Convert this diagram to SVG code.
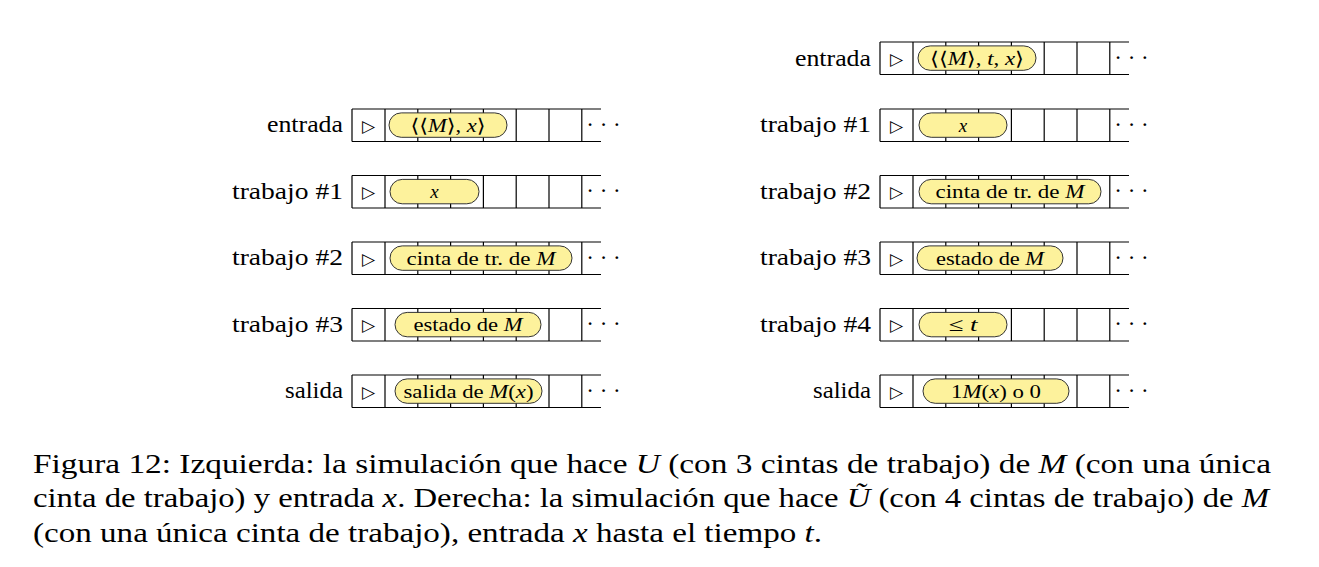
<svg xmlns="http://www.w3.org/2000/svg" xmlns:xlink="http://www.w3.org/1999/xlink" width="1319" height="567" viewBox="0 0 1319 567">
<style>
  .tape { fill: none; stroke: #000; stroke-width: 1.2; }
  .cap { fill: #fdf29c; stroke: #333; stroke-width: 1; }
  .lbl { font-family: "Liberation Serif", "DejaVu Serif", serif; font-size: 23px; fill: #000; text-anchor: end; }
  .ct { font-family: "Liberation Serif", "DejaVu Serif", serif; font-size: 19px; fill: #000; text-anchor: middle; }
  .tri { font-family: "DejaVu Sans", sans-serif; font-size: 17px; fill: #000; text-anchor: middle; }
  .dots { font-family: "Liberation Serif", serif; font-size: 23px; fill: #000; text-anchor: middle; }
  .cap-t { font-family: "Liberation Serif", "DejaVu Serif", serif; font-size: 26.5px; fill: #000; }
  .m { font-style: italic; }
</style>
<defs>
  <g id="tape">
    <path class="tape" d="M0,0 H249 M0,32.5 H249 M0,0 V32.5 M33,0 V32.5 M65.8,0 V32.5 M98.6,0 V32.5 M131.4,0 V32.5 M164.2,0 V32.5 M197,0 V32.5 M229.8,0 V32.5"/>
    <text class="tri" x="16.5" y="22.5">▷</text>
    <text class="dots" x="251.5" y="22.5">· · ·</text>
  </g>
</defs>

<g id="connectors"></g>

<!-- Left side -->
<g id="L-entrada">
  <text class="lbl" x="343" y="132" textLength="76" lengthAdjust="spacingAndGlyphs">entrada</text>
  <use xlink:href="#tape" x="352" y="109"/>
  <rect class="cap" x="389" y="112.9" width="118" height="24.4" rx="12.2"/>
  <text class="ct" x="448" y="131.5" textLength="75" lengthAdjust="spacingAndGlyphs">⟨⟨<tspan class="m">M</tspan>⟩, <tspan class="m">x</tspan>⟩</text>
</g>
<g id="L-trabajo1">
  <text class="lbl" x="343" y="198.5" textLength="111" lengthAdjust="spacingAndGlyphs">trabajo #1</text>
  <use xlink:href="#tape" x="352" y="175.5"/>
  <rect class="cap" x="390" y="179.4" width="89" height="24.4" rx="12.2"/>
  <text class="ct m" x="434.5" y="198">x</text>
</g>
<g id="L-trabajo2">
  <text class="lbl" x="343" y="265" textLength="111" lengthAdjust="spacingAndGlyphs">trabajo #2</text>
  <use xlink:href="#tape" x="352" y="242"/>
  <rect class="cap" x="390" y="245.9" width="182" height="24.4" rx="12.2"/>
  <text class="ct" x="481" y="264.5" textLength="149" lengthAdjust="spacingAndGlyphs">cinta de tr. de <tspan class="m">M</tspan></text>
</g>
<g id="L-trabajo3">
  <text class="lbl" x="343" y="331.5" textLength="111" lengthAdjust="spacingAndGlyphs">trabajo #3</text>
  <use xlink:href="#tape" x="352" y="308.5"/>
  <rect class="cap" x="395" y="312.4" width="146" height="24.4" rx="12.2"/>
  <text class="ct" x="468" y="331" textLength="109" lengthAdjust="spacingAndGlyphs">estado de <tspan class="m">M</tspan></text>
</g>
<g id="L-salida">
  <text class="lbl" x="343" y="398" textLength="58" lengthAdjust="spacingAndGlyphs">salida</text>
  <use xlink:href="#tape" x="352" y="375"/>
  <rect class="cap" x="395" y="378.9" width="147" height="24.4" rx="12.2"/>
  <text class="ct" x="468.5" y="397.5" textLength="130" lengthAdjust="spacingAndGlyphs">salida de <tspan class="m">M</tspan>(<tspan class="m">x</tspan>)</text>
</g>

<!-- Right side -->
<g id="R-entrada">
  <text class="lbl" x="871" y="65.5" textLength="76" lengthAdjust="spacingAndGlyphs">entrada</text>
  <use xlink:href="#tape" x="880" y="42"/>
  <rect class="cap" x="918" y="45.9" width="118" height="24.4" rx="12.2"/>
  <text class="ct" x="977" y="64.5" textLength="94" lengthAdjust="spacingAndGlyphs">⟨⟨<tspan class="m">M</tspan>⟩, <tspan class="m">t</tspan>, <tspan class="m">x</tspan>⟩</text>
</g>
<g id="R-trabajo1">
  <text class="lbl" x="871" y="132" textLength="111" lengthAdjust="spacingAndGlyphs">trabajo #1</text>
  <use xlink:href="#tape" x="880" y="109"/>
  <rect class="cap" x="919" y="112.9" width="88" height="24.4" rx="12.2"/>
  <text class="ct m" x="963" y="131.5">x</text>
</g>
<g id="R-trabajo2">
  <text class="lbl" x="871" y="198.5" textLength="111" lengthAdjust="spacingAndGlyphs">trabajo #2</text>
  <use xlink:href="#tape" x="880" y="175.5"/>
  <rect class="cap" x="919" y="179.4" width="182" height="24.4" rx="12.2"/>
  <text class="ct" x="1010" y="198" textLength="149" lengthAdjust="spacingAndGlyphs">cinta de tr. de <tspan class="m">M</tspan></text>
</g>
<g id="R-trabajo3">
  <text class="lbl" x="871" y="265" textLength="111" lengthAdjust="spacingAndGlyphs">trabajo #3</text>
  <use xlink:href="#tape" x="880" y="242"/>
  <rect class="cap" x="917" y="245.9" width="146" height="24.4" rx="12.2"/>
  <text class="ct" x="990" y="264.5" textLength="108" lengthAdjust="spacingAndGlyphs">estado de <tspan class="m">M</tspan></text>
</g>
<g id="R-trabajo4">
  <text class="lbl" x="871" y="331.5" textLength="111" lengthAdjust="spacingAndGlyphs">trabajo #4</text>
  <use xlink:href="#tape" x="880" y="308.5"/>
  <rect class="cap" x="919" y="312.4" width="88" height="24.4" rx="12.2"/>
  <text class="ct" x="963" y="331" textLength="29" lengthAdjust="spacingAndGlyphs">≤ <tspan class="m">t</tspan></text>
</g>
<g id="R-salida">
  <text class="lbl" x="871" y="398" textLength="58" lengthAdjust="spacingAndGlyphs">salida</text>
  <use xlink:href="#tape" x="880" y="375"/>
  <rect class="cap" x="923" y="378.9" width="146" height="24.4" rx="12.2"/>
  <text class="ct" x="996" y="397.5" textLength="90" lengthAdjust="spacingAndGlyphs">1<tspan class="m">M</tspan>(<tspan class="m">x</tspan>) o 0</text>
</g>

<!-- Caption -->
<g id="caption">
  <text class="cap-t" x="33" y="472.5" textLength="1238" lengthAdjust="spacingAndGlyphs">Figura 12: Izquierda: la simulación que hace <tspan class="m">U</tspan> (con 3 cintas de trabajo) de <tspan class="m">M</tspan> (con una única</text>
  <text class="cap-t" x="33" y="507" textLength="1236" lengthAdjust="spacingAndGlyphs">cinta de trabajo) y entrada <tspan class="m">x</tspan>. Derecha: la simulación que hace <tspan class="m">Ũ</tspan> (con 4 cintas de trabajo) de <tspan class="m">M</tspan></text>
  <text class="cap-t" x="33" y="541.5" textLength="789" lengthAdjust="spacingAndGlyphs">(con una única cinta de trabajo), entrada <tspan class="m">x</tspan> hasta el tiempo <tspan class="m">t</tspan>.</text>
</g>
</svg>
